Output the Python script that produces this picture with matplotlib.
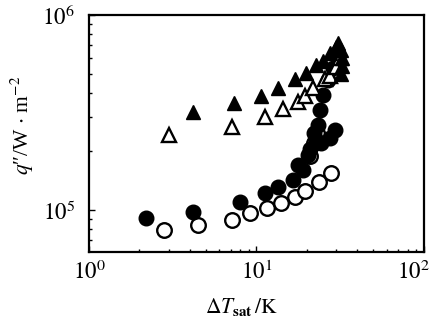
## Imports
import numpy as np
import matplotlib
matplotlib.use('Agg')
import matplotlib.pyplot as plt
import matplotlib.transforms as mtransforms

## Styles
plt.rcParams['font.family'] = ['Liberation Serif', 'DejaVu Serif']
plt.rcParams['mathtext.fontset'] = 'stix'
font_tick = 16.5
font_label = 15.5

# Data (dT_sat in K, q in W/m2)
fc_x = [2.2, 4.2, 8.0, 11.3, 13.5, 16.6, 17.8, 20.3, 22.7, 23.4, 24.0, 25.0,
        26.9, 28.7, 30.7, 24.4, 27.6, 29.5, 21.0, 22.0, 19.0]
fc_y = [9.1e4, 9.8e4, 1.10e5, 1.22e5, 1.31e5, 1.43e5, 1.70e5, 1.91e5, 2.29e5,
        2.73e5, 3.26e5, 3.89e5, 4.64e5, 5.35e5, 6.0e5, 2.20e5, 2.35e5, 2.57e5,
        2.05e5, 2.5e5, 1.6e5]

oc_x = [2.8, 4.5, 7.1, 9.2, 11.5, 14.1, 17.1, 19.6, 23.7, 28.0, 21.0, 22.0, 23.0]
oc_y = [7.9e4, 8.4e4, 8.9e4, 9.7e4, 1.02e5, 1.09e5, 1.17e5, 1.25e5, 1.39e5,
        1.55e5, 1.9e5, 2.2e5, 2.5e5]

ft_x = [4.2, 7.3, 10.6, 13.5, 17.1, 19.9, 22.7, 25.0, 27.6, 29.9, 30.7,
        32.0, 32.5, 32.5, 32.0]
ft_y = [3.18e5, 3.54e5, 3.84e5, 4.23e5, 4.70e5, 5.05e5, 5.55e5, 5.80e5,
        6.40e5, 6.86e5, 7.20e5, 6.60e5, 6.00e5, 5.50e5, 5.00e5]

ot_x = [3.0, 7.1, 11.3, 14.5, 17.8, 19.6, 21.8, 25.7, 27.6, 30.0, 31.5]
ot_y = [2.43e5, 2.67e5, 3.00e5, 3.30e5, 3.58e5, 3.84e5, 4.23e5, 4.70e5,
        4.90e5, 5.40e5, 6.00e5]

xticks = [1, 10, 100]
xtick_labels = [r'$10^{0}$', r'$10^{1}$', r'$10^{2}$']
yticks = [1e5, 1e6]
ytick_labels = [r'$10^{5}$', r'$10^{6}$']

fig = plt.figure(figsize=(4.31, 3.21), dpi=100)
ax = fig.add_axes([0.2065, 0.215, 0.777, 0.738])

ms = 10.5
ax.plot(oc_x, oc_y, 'o', ms=ms, mfc='white', mec='black', mew=1.7, ls='none')
ax.plot(fc_x, fc_y, 'o', ms=ms, mfc='black', mec='black', mew=1.0, ls='none')
ax.plot(ot_x, ot_y, '^', ms=ms, mfc='white', mec='black', mew=1.7, ls='none')
ax.plot(ft_x, ft_y, '^', ms=ms, mfc='black', mec='black', mew=1.0, ls='none')

ax.set_xscale('log')
ax.set_yscale('log')
ax.set_xlim(1, 100)
ax.set_ylim(6.1e4, 1e6)

ax.set_xticks(xticks)
ax.set_xticklabels(xtick_labels, fontsize=font_tick)
ax.set_yticks(yticks)
ax.set_yticklabels(ytick_labels, fontsize=font_tick)

ax.tick_params(which='both', direction='in', top=False, right=False)
ax.tick_params(which='major', length=4, width=1.0)
ax.tick_params(which='minor', length=2.5, width=1.0)
ax.tick_params(axis='x', which='major', pad=6)
ax.tick_params(axis='y', which='major', pad=10)
ax.yaxis.set_minor_formatter(plt.NullFormatter())
ax.xaxis.set_minor_formatter(plt.NullFormatter())

# keep the right-most label inside the picture
lab = ax.get_xticklabels()[-1]
lab.set_horizontalalignment('right')
lab.set_transform(lab.get_transform() +
                  mtransforms.ScaledTranslation(6/100, 0, fig.dpi_scale_trans))

for s in ax.spines.values():
    s.set_linewidth(1.6)

fig.text(0.052, 0.61, r'$q$″/W $\cdot$ m$^{-2}$',
         rotation=90, ha='center', va='center', fontsize=font_label)
fig.text(0.56, 0.045, r'$\Delta T_{\mathbf{sat}}\,/\mathrm{K}$',
         ha='center', va='center', fontsize=font_label)

plt.savefig('out.png', dpi=100)
